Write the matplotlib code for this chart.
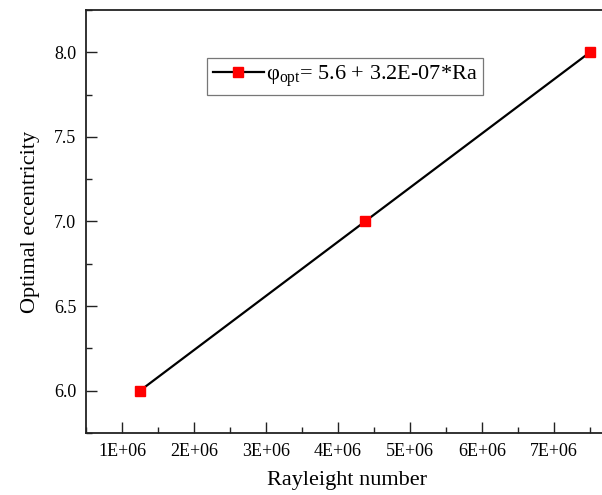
import numpy as np
import matplotlib.pyplot as plt
from matplotlib.ticker import MultipleLocator, FuncFormatter

# data
rayleigh = [1.25e6, 4.375e6, 7.5e6]
eccentricity = [6.0, 7.0, 8.0]
legend_label = 'φ$_{\\mathrm{opt}}$= 5.6 + 3.2E-07*Ra'

plt.rcParams['font.family'] = ['Liberation Serif', 'DejaVu Serif']
plt.rcParams['mathtext.fontset'] = 'custom'
plt.rcParams['mathtext.rm'] = 'Liberation Serif'
plt.rcParams['mathtext.it'] = 'Liberation Serif:italic'

fig = plt.figure(figsize=(6.02, 4.95), dpi=100)
ax = fig.add_axes([0.1429, 0.1253, 1.01 - 0.1429, 0.980 - 0.1253])

ax.plot(rayleigh, eccentricity, '-', color='black', lw=1.6,
        marker='s', ms=6.5, mfc='#ff0000', mec='#ff0000', label=legend_label)

ax.set_xlim(0.5e6, 7.75e6)
ax.set_ylim(5.75, 8.25)
ax.xaxis.set_major_locator(MultipleLocator(1e6))
ax.xaxis.set_minor_locator(MultipleLocator(0.5e6))
ax.yaxis.set_major_locator(MultipleLocator(0.5))
ax.yaxis.set_minor_locator(MultipleLocator(0.25))
ax.xaxis.set_major_formatter(FuncFormatter(lambda v, p: '{:.0E}'.format(v)))
ax.yaxis.set_major_formatter(FuncFormatter(lambda v, p: '{:.1f}'.format(v)))

ax.tick_params(which='both', direction='in', top=False, right=False,
               labelsize=13, width=1.0, color='#222222')
ax.tick_params(which='major', length=8, pad=7)
ax.tick_params(which='minor', length=4.5)
for s in ax.spines.values():
    s.set_linewidth(1.3)
    s.set_color('#222222')

ax.set_xlabel('Rayleight number', fontsize=16, labelpad=8)
ax.set_ylabel('Optimal eccentricity', fontsize=16, labelpad=10)

leg = ax.legend(loc='upper left', bbox_to_anchor=(0.232, 0.886), fontsize=16,
                frameon=True, fancybox=False, handlelength=2.3,
                handletextpad=0.1, borderpad=0.25, borderaxespad=0)
leg.get_frame().set_edgecolor('#555555')
leg.get_frame().set_linewidth(0.9)

plt.savefig('out.png', dpi=100)
